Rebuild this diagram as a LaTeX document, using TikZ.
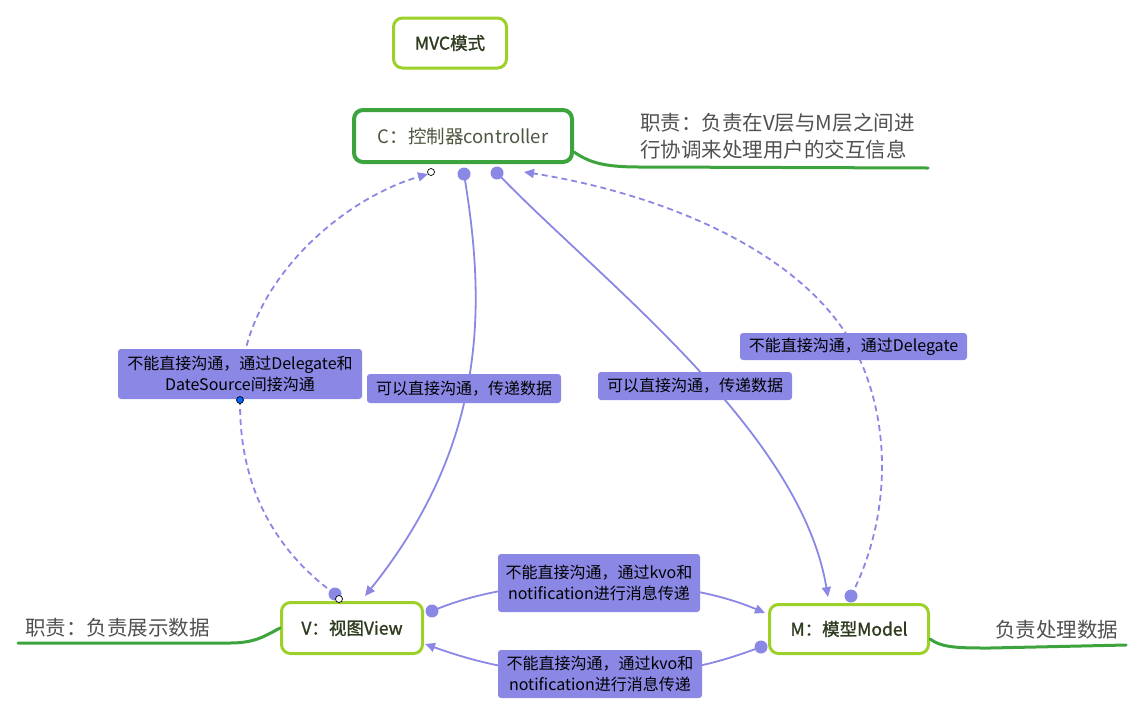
\documentclass[tikz,border=0pt]{standalone}
\usepackage{fontspec}
\setmainfont{Noto Sans CJK SC}
\usetikzlibrary{arrows.meta}

\definecolor{ctrlgreen}{HTML}{3DA33D}
\definecolor{limegreen}{HTML}{9DD12A}
\definecolor{linkblue}{HTML}{8A87E5}
\definecolor{boxtext}{HTML}{2E3B1F}
\definecolor{notegray}{HTML}{505050}

\tikzset{
  part/.style={draw=limegreen, line width=3pt, rounded corners=9pt, fill=white,
    text=boxtext, font=\fontsize{17.5}{20}\selectfont\addfontfeature{FakeBold=1.3}},
  tag/.style={fill=linkblue, rounded corners=3pt, text=black, align=center,
    font=\fontsize{16}{21}\selectfont, inner sep=0pt},
  note/.style={text=notegray, align=left, font=\fontsize{20.5}{27}\selectfont, inner sep=0pt},
  link/.style={linkblue, line width=1.8pt, -{Triangle[length=10pt,width=9pt]}},
  dlink/.style={link, dash pattern=on 6pt off 4pt},
  rule/.style={ctrlgreen, line width=3pt, line cap=round}
}

\begin{document}
\begin{tikzpicture}[x=1pt,y=-1pt]
\useasboundingbox (0,0) rectangle (1147,721);

\node[part, minimum width=113pt, minimum height=50pt] (mvc) at (450,43) {MVC模式};
\node[part, draw=ctrlgreen, line width=4pt, minimum width=218pt, minimum height=52pt,
  font=\fontsize{18.5}{22}\selectfont, text=boxtext!85] (c) at (463,136) {C：控制器controller};
\node[part, minimum width=141pt, minimum height=51pt] (v) at (352,628) {V：视图View};
\node[part, minimum width=159pt, minimum height=49pt] (m) at (849,629) {M：模型Model};

% notes
\node[note, anchor=west] (cnote) at (640,136) {职责：负责在V层与M层之间进\\行协调来处理用户的交互信息};
\node[note, anchor=west] (vnote) at (25,628) {职责：负责展示数据};
\node[note, anchor=west] (mnote) at (995,630) {负责处理数据};

\draw[rule] (c.east) ++(0,16) .. controls (590,163) and (605,167) .. (640,167) -- (928,168);
\draw[rule] (18,643) -- (230,643) .. controls (255,643) and (265,636) .. (v.west);
\draw[rule] (m.east) ++(0,10) .. controls (942,648) and (960,648) .. (990,648) -- (1126,645);

% connectors
\coordinate (vtop) at (335,594);
\coordinate (ctip) at (428,174);
\draw[dlink] (vtop) .. controls (260,540) and (232,460) .. (242,370)
  .. controls (252,280) and (340,200) .. (ctip);
\coordinate (cdot) at (464,174);
\coordinate (vtip) at (365,596);
\draw[link] (cdot) .. controls (485,300) and (490,440) .. (vtip);
\coordinate (cdotb) at (497,173);
\coordinate (mtip) at (828,597);
\draw[link] (cdotb) .. controls (600,280) and (800,430) .. (mtip);
\coordinate (mtop) at (851,596);
\coordinate (ctipb) at (524,172);
\draw[dlink] (mtop) .. controls (890,520) and (895,420) .. (850,340)
  .. controls (790,240) and (640,190) .. (ctipb);
\coordinate (vright) at (432,611);
\coordinate (mleft) at (765,613);
\draw[link] (vright) .. controls (470,595) and (520,583) .. (600,583)
  .. controls (680,583) and (730,598) .. (mleft);
\coordinate (mleftb) at (761,647);
\coordinate (vrightb) at (425,644);
\draw[link] (mleftb) .. controls (720,662) and (680,675) .. (600,675)
  .. controls (520,675) and (470,660) .. (vrightb);

\foreach \p in {vtop,cdot,cdotb,mtop,vright,mleftb}
  \fill[linkblue] (\p) circle (6.5pt);

% labels
\node[tag, minimum width=244pt, minimum height=50pt] (l1) at (240,374)
  {不能直接沟通，通过Delegate和\\DateSource间接沟通};
\node[tag, minimum width=194pt, minimum height=29pt] (l2) at (464,388.5) {可以直接沟通，传递数据};
\node[tag, minimum width=194pt, minimum height=28pt] (l3) at (695,386) {可以直接沟通，传递数据};
\node[tag, minimum width=227pt, minimum height=27pt] (l4) at (853.5,346.5) {不能直接沟通，通过Delegate};
\node[tag, minimum width=202pt, minimum height=58pt] (l5) at (599,583)
  {不能直接沟通，通过kvo和\\notification进行消息传递};
\node[tag, minimum width=204pt, minimum height=48pt] (l6) at (600,674)
  {不能直接沟通，通过kvo和\\notification进行消息传递};

% handles
\draw[black, fill=white, line width=0.7pt] (ctip) ++(3,-2) circle (3.5pt);
\draw[black, fill=white, line width=0.7pt] (vtop) ++(4,5) circle (3.5pt);
\draw[black, fill=blue!60!cyan, line width=0.7pt] (240,400) circle (3.5pt);
\end{tikzpicture}
\end{document}
